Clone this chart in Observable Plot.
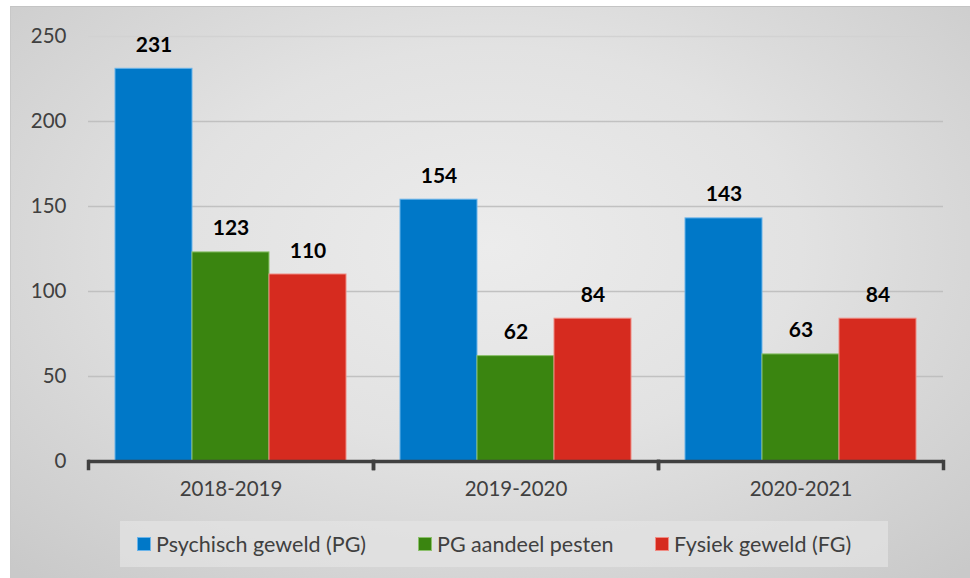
<!DOCTYPE html>
<html>
<head>
<meta charset="utf-8">
<script src="https://cdn.jsdelivr.net/npm/d3@7"></script>
<script src="https://cdn.jsdelivr.net/npm/@observablehq/plot@0.6"></script>
<style>
  html, body { margin: 0; padding: 0; background: #ffffff; }
  #chart {
    position: absolute; left: 10px; top: 6px; width: 960px; height: 572px;
    background: radial-gradient(ellipse 72% 78% at 50% 42%, #ececec 0%, #e2e2e2 45%, #c9c9c9 100%);
    border-top: 1px solid #c4c4c4; border-left: 1px solid #c8c8c8;
    box-sizing: border-box; overflow: hidden;
    font-family: Lato, sans-serif;
  }
  #plot { position: absolute; left: -1px; top: -1px; }
  #legend {
    position: absolute; left: 109px; top: 514px; width: 768px; height: 46px;
    background: rgba(228,228,228,0.7);
    display: flex; align-items: center; padding-left: 17px; box-sizing: border-box;
    color: #404040; font-size: 21.5px;
  }
  .item { display: flex; align-items: center; }
  .sw { width: 12px; height: 12px; margin-right: 5px; border: 1px solid; }
</style>
</head>
<body>
<div id="chart">
  <div id="plot"></div>
  <div id="legend"></div>
</div>
<script>
const years = ["2018-2019", "2019-2020", "2020-2021"];
const series = ["Psychisch geweld (PG)", "PG aandeel pesten", "Fysiek geweld (FG)"];
const psychisch = [231, 154, 143];
const pesten = [123, 62, 63];
const fysiek = [110, 84, 84];
const colors = ["#0078c8", "#3a8510", "#d62b1f"];
const edgeColors = ["#6ab4ea", "#8cc06c", "#f08c84"];
const yTicks = [0, 50, 100, 150, 200, 250];
const legendItemWidths = [281, 237, 220];

const valuesBySeries = [psychisch, pesten, fysiek];
const data = [];
years.forEach((yr, i) => {
  series.forEach((s, j) => {
    data.push({year: yr, series: s, value: valuesBySeries[j][i]});
  });
});

const plot = Plot.plot({
  width: 960,
  height: 500,
  marginTop: 30,
  marginBottom: 45,
  marginLeft: 78,
  marginRight: 27,
  style: {fontFamily: "Lato, sans-serif", fontSize: "20.5px", color: "#404040", background: "transparent", overflow: "visible"},
  fx: {domain: years, padding: 0, label: null, tickSize: 0, tickPadding: 20, axis: "bottom"},
  x: {domain: series, axis: null, paddingInner: 0, paddingOuter: 0.327},
  y: {domain: [0, 250], ticks: yTicks, tickSize: 0, tickPadding: 22, label: null, tickFormat: d => String(d)},
  color: {domain: series, range: colors},
  marks: [
    Plot.gridY(yTicks.filter(d => d > 0 && d < 250), {stroke: "#bdbdbd", strokeOpacity: 0.9, strokeWidth: 1.5}),
    Plot.gridY(yTicks.filter(d => d === 250), {stroke: "#d2d2d2", strokeOpacity: 1, strokeWidth: 1.5}),
    Plot.barY(data, {fx: "year", x: "series", y: "value", fill: "series",
      stroke: d => edgeColors[series.indexOf(d.series)], strokeWidth: 1}),
    Plot.text(data, {fx: "year", x: "series", y: "value", text: d => String(d.value),
      fontWeight: "bold", fill: "#000", fontSize: 21, lineAnchor: "bottom", dy: -17}),
    Plot.ruleY([0], {stroke: "#404040", strokeWidth: 3.5}),
    Plot.frame({anchor: "left", insetTop: 425, insetBottom: -7, stroke: "#404040", strokeWidth: 3.5}),
    Plot.frame({anchor: "right", insetTop: 425, insetBottom: -7, stroke: "#404040", strokeWidth: 3.5})
  ]
});
document.getElementById("plot").appendChild(plot);

const legend = document.getElementById("legend");
series.forEach((s, j) => {
  const it = document.createElement("div");
  it.className = "item";
  it.style.width = legendItemWidths[j] + "px";
  const sw = document.createElement("span");
  sw.className = "sw";
  sw.style.background = colors[j];
  sw.style.borderColor = edgeColors[j];
  const tx = document.createElement("span");
  tx.textContent = s;
  it.appendChild(sw); it.appendChild(tx);
  legend.appendChild(it);
});
</script>
</body>
</html>
